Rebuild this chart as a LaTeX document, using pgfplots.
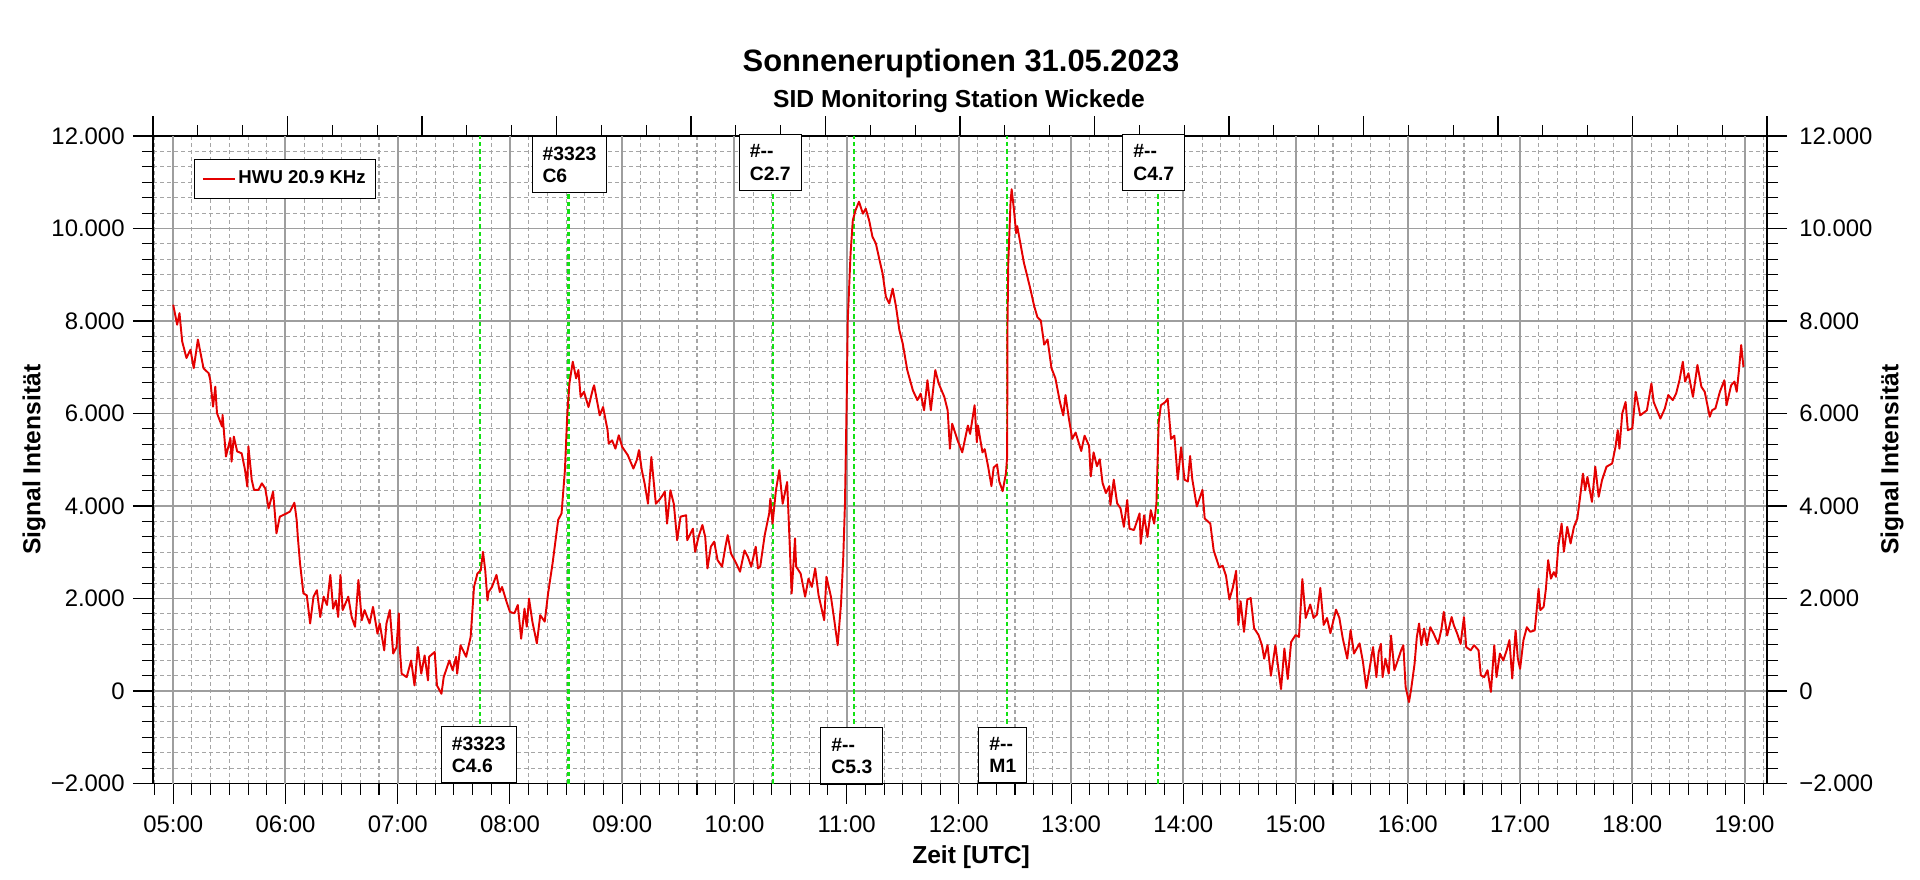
\documentclass[border=0pt]{standalone}
\usepackage{fontspec}
\setmainfont{Liberation Sans}
\usepackage{pgfplots}
\pgfplotsset{compat=1.18}
\definecolor{sigred}{RGB}{228,0,0}
\definecolor{flgreen}{RGB}{20,225,20}
\definecolor{gridmaj}{RGB}{158,158,158}
\definecolor{gridmin}{RGB}{165,165,165}
\pgfplotsset{
 base/.style={width=161.4mm, height=64.75mm, scale only axis, at={(15.3mm,9.55mm)}, anchor=south west,
   scaled ticks=false,
   tick align=outside, major tick length=2mm, minor tick length=1.1mm,
   every tick/.style={black, line width=0.3pt},
   axis line style={black, line width=0.4pt},
   tick label style={font=\fontsize{6.8}{8}\selectfont},
   ymin=-2000, ymax=12000},
}
\tikzset{flbox/.style={draw=black, line width=0.3pt, fill=white, inner xsep=1.05mm, inner ysep=1mm, align=left, font=\fontsize{5.5}{6.45}\selectfont\bfseries}}
\begin{document}
\begin{tikzpicture}
\path[use as bounding box] (0,0) rectangle (192mm,87.9mm);
\node[anchor=base, font=\fontsize{8.8}{10}\selectfont\bfseries] at (96.1mm,80.8mm) {Sonneneruptionen 31.05.2023};
\node[anchor=base, font=\fontsize{7}{8}\selectfont\bfseries] at (95.9mm,77.13mm) {SID Monitoring Station Wickede};

% top ticks
\begin{axis}[base, hide y axis, xmin=0, xmax=36, xtick={0,3,...,36}, minor xtick={0,1,...,36}, xtick pos=right, xticklabels={}]
\end{axis}

% right y axis
\begin{axis}[base, hide x axis, xmin=0, xmax=1,
  ytick={-2000,0,2000,4000,6000,8000,10000,12000},
  yticklabels={−2.000,0,2.000,4.000,6.000,8.000,10.000,12.000},
  minor y tick num=5, ytick pos=right, yticklabel pos=right,
  ylabel={Signal Intensität},
  every axis y label/.style={at={(rel axis cs:1,0.5)}, xshift=12.5mm, rotate=90, anchor=center, font=\fontsize{7}{8}\selectfont\bfseries}]
\end{axis}

% main axis
\begin{axis}[base, clip=false,
  xmin=4.82, xmax=19.2,
  xtick={5,6,...,19},
  xticklabels={05:00,06:00,07:00,08:00,09:00,10:00,11:00,12:00,13:00,14:00,15:00,16:00,17:00,18:00,19:00},
  minor xtick={4.8333,
   5.1667,5.3333,5.5,5.6667,5.8333, 6.1667,6.3333,6.5,6.6667,6.8333, 7.1667,7.3333,7.5,7.6667,7.8333,
   8.1667,8.3333,8.5,8.6667,8.8333, 9.1667,9.3333,9.5,9.6667,9.8333, 10.1667,10.3333,10.5,10.6667,10.8333,
   11.1667,11.3333,11.5,11.6667,11.8333, 12.1667,12.3333,12.5,12.6667,12.8333, 13.1667,13.3333,13.5,13.6667,13.8333,
   14.1667,14.3333,14.5,14.6667,14.8333, 15.1667,15.3333,15.5,15.6667,15.8333, 16.1667,16.3333,16.5,16.6667,16.8333,
   17.1667,17.3333,17.5,17.6667,17.8333, 18.1667,18.3333,18.5,18.6667,18.8333, 19.1667},
  extra x ticks={5,6,...,19},
  extra x tick labels={},
  extra x tick style={xmajorgrids=true, major grid style={gridmaj, line width=0.6pt}},
  ytick={-2000,0,2000,4000,6000,8000,10000,12000},
  yticklabels={−2.000,0,2.000,4.000,6.000,8.000,10.000,12.000},
  yticklabel style={xshift=0.4mm},
  minor y tick num=5,
  xtick pos=left, ytick pos=left,
  xmajorgrids=false, xminorgrids=true, ymajorgrids=true, yminorgrids=true,
  major grid style={gridmaj, line width=0.4pt},
  minor grid style={gridmin, line width=0.3pt, dash pattern=on 0.4mm off 0.3mm},
  xlabel={Zeit [UTC]},
  every axis x label/.style={at={(rel axis cs:0.5,0)}, anchor=base, yshift=-7.95mm, xshift=1.1mm, font=\fontsize{7}{8}\selectfont\bfseries},
  ylabel={Signal Intensität},
  every axis y label/.style={at={(rel axis cs:0,0.5)}, xshift=-11.9mm, rotate=90, anchor=center, font=\fontsize{7}{8}\selectfont\bfseries},
  legend style={at={(0.0254,0.9645)}, anchor=north west, draw=black, line width=0.3pt, fill=white,
     inner xsep=0.75mm, inner ysep=0.8mm, font=\fontsize{5.3}{6}\selectfont\bfseries,
     nodes={inner sep=0.25mm}},
  legend cell align=left,
  legend image code/.code={\draw[#1] (0mm,0mm) -- (3.2mm,0mm);},
]
\addplot[flgreen, line width=0.6pt, dash pattern=on 0.45mm off 0.3mm, forget plot] coordinates {(7.733,-2000) (7.733,12000)};
\addplot[flgreen, line width=0.6pt, dash pattern=on 0.45mm off 0.3mm, forget plot] coordinates {(8.522,-2000) (8.522,12000)};
\addplot[flgreen, line width=0.6pt, dash pattern=on 0.45mm off 0.3mm, forget plot] coordinates {(10.346,-2000) (10.346,12000)};
\addplot[flgreen, line width=0.6pt, dash pattern=on 0.45mm off 0.3mm, forget plot] coordinates {(11.065,-2000) (11.065,12000)};
\addplot[flgreen, line width=0.6pt, dash pattern=on 0.45mm off 0.3mm, forget plot] coordinates {(12.427,-2000) (12.427,12000)};
\addplot[flgreen, line width=0.6pt, dash pattern=on 0.45mm off 0.3mm, forget plot] coordinates {(13.777,-2000) (13.777,12000)};

\addplot[sigred, line width=0.55pt, line join=round] coordinates {
(5.000,8353) (5.035,7920) (5.056,8170) (5.080,7560) (5.118,7200) (5.154,7380) (5.183,6980) (5.220,7600)
(5.270,6980) (5.316,6870) (5.330,6730) (5.355,6150) (5.375,6580) (5.390,6010) (5.435,5720) (5.440,5970)
(5.470,5070) (5.510,5470) (5.520,4960) (5.540,5500) (5.570,5180) (5.610,5140) (5.640,4780) (5.660,4420)
(5.670,5290) (5.700,4560) (5.720,4350) (5.760,4350) (5.790,4490) (5.820,4380) (5.850,3950) (5.890,4310)
(5.920,3410) (5.950,3770) (6.010,3840) (6.040,3880) (6.080,4070) (6.100,3700) (6.110,3340) (6.130,2760)
(6.160,2110) (6.190,2070) (6.220,1460) (6.250,2040) (6.280,2180) (6.310,1600) (6.340,2040) (6.370,1860)
(6.400,2510) (6.425,1780) (6.450,1960) (6.470,1600) (6.490,2510) (6.510,1750) (6.560,2040) (6.590,1600)
(6.620,1390) (6.650,2400) (6.680,1530) (6.705,1750) (6.750,1460) (6.780,1820) (6.820,1240) (6.840,1460)
(6.880,880) (6.900,1460) (6.930,1750) (6.960,810) (6.990,950) (7.010,1680) (7.020,880) (7.035,375)
(7.080,300) (7.120,660) (7.150,120) (7.180,950) (7.210,375) (7.240,770) (7.270,230) (7.280,740)
(7.330,845) (7.350,120) (7.390,-60) (7.410,300) (7.460,660) (7.490,450) (7.520,740) (7.530,375)
(7.560,990) (7.610,740) (7.650,1170) (7.680,2250) (7.710,2540) (7.740,2610) (7.760,3010) (7.780,2610)
(7.800,1960) (7.810,2140) (7.840,2250) (7.880,2510) (7.910,2140) (7.930,2250) (7.970,1930) (8.000,1710)
(8.040,1680) (8.070,1860) (8.100,1130) (8.130,1780) (8.150,1390) (8.170,2000) (8.200,1500) (8.240,1030)
(8.270,1640) (8.310,1500) (8.340,2110) (8.380,2760) (8.430,3700) (8.460,3840) (8.490,4775) (8.510,5930)
(8.530,6650) (8.560,7120) (8.590,6760) (8.610,6940) (8.630,6360) (8.660,6470) (8.700,6140) (8.740,6540)
(8.750,6610) (8.800,5960) (8.830,6140) (8.870,5640) (8.880,5350) (8.910,5420) (8.940,5240) (8.970,5530)
(9.000,5280) (9.050,5100) (9.100,4810) (9.130,4990) (9.150,5210) (9.175,4775) (9.200,4490) (9.230,4050)
(9.260,5060) (9.300,4050) (9.330,4130) (9.360,4230) (9.380,4310) (9.400,3620) (9.430,4340) (9.460,4050)
(9.490,3260) (9.520,3770) (9.570,3800) (9.580,3260) (9.630,3510) (9.650,3010) (9.680,3330) (9.715,3590)
(9.740,3330) (9.760,2650) (9.790,3120) (9.820,3230) (9.850,2830) (9.890,2690) (9.920,3120) (9.940,3370)
(9.970,2970) (10.010,2790) (10.050,2580) (10.090,3040) (10.120,2900) (10.150,2690) (10.190,3120) (10.210,2650)
(10.230,2690) (10.270,3370) (10.310,3840) (10.320,4160) (10.340,3620) (10.370,4340) (10.400,4775) (10.430,4050)
(10.470,4520) (10.490,3330) (10.510,2110) (10.540,3300) (10.550,2690) (10.590,2540) (10.630,2040) (10.660,2430)
(10.690,2250) (10.720,2650) (10.750,2070) (10.800,1530) (10.820,2470) (10.860,2040) (10.890,1530) (10.920,990)
(10.950,1890) (10.970,2900) (10.985,4050) (11.000,6220) (11.010,8020) (11.035,9460) (11.055,10180) (11.080,10400)
(11.110,10580) (11.145,10320) (11.170,10430) (11.200,10180) (11.230,9820) (11.260,9680) (11.290,9350) (11.320,9030)
(11.350,8520) (11.380,8380) (11.410,8700) (11.440,8310) (11.470,7800) (11.500,7510) (11.540,6940) (11.590,6500)
(11.630,6290) (11.660,6430) (11.690,6070) (11.720,6720) (11.750,6070) (11.790,6940) (11.820,6650) (11.870,6360)
(11.900,6070) (11.920,5240) (11.940,5780) (11.990,5410) (12.030,5160) (12.080,5740) (12.100,5560) (12.140,6180)
(12.160,5380) (12.170,5740) (12.210,5160) (12.230,5230) (12.260,4860) (12.290,4430) (12.310,4830) (12.340,4900)
(12.360,4530) (12.390,4320) (12.420,4720) (12.430,5080) (12.433,7930) (12.440,9250) (12.460,10560) (12.470,10850)
(12.490,10420) (12.510,9900) (12.520,10050) (12.550,9650) (12.580,9250) (12.610,8960) (12.640,8660) (12.670,8330)
(12.700,8080) (12.730,8010) (12.760,7490) (12.790,7600) (12.825,6980) (12.860,6760) (12.900,6250) (12.930,5960)
(12.950,6400) (12.980,5890) (13.010,5450) (13.040,5590) (13.090,5190) (13.120,5520) (13.160,5300) (13.175,4640)
(13.200,5160) (13.230,4860) (13.255,5010) (13.280,4500) (13.310,4280) (13.340,4430) (13.350,4020) (13.380,4570)
(13.410,4060) (13.440,3950) (13.470,3550) (13.500,4130) (13.520,3510) (13.560,3480) (13.610,3840) (13.620,3180)
(13.650,3800) (13.680,3330) (13.710,3910) (13.740,3620) (13.760,4060) (13.770,4940) (13.780,5810) (13.800,6180)
(13.840,6250) (13.860,6320) (13.890,5450) (13.920,5520) (13.950,4570) (13.980,5270) (14.010,4570) (14.040,4530)
(14.060,5080) (14.080,4570) (14.120,3990) (14.170,4350) (14.190,3730) (14.240,3620) (14.270,3040) (14.320,2670)
(14.350,2710) (14.380,2490) (14.410,1980) (14.440,2230) (14.470,2600) (14.490,1430) (14.510,1940) (14.540,1280)
(14.570,1980) (14.600,2010) (14.630,1360) (14.670,1210) (14.700,990) (14.720,700) (14.750,990) (14.780,330)
(14.820,990) (14.850,410) (14.870,40) (14.900,920) (14.930,260) (14.960,1060) (15.000,1210) (15.030,1170)
(15.060,2420) (15.090,1580) (15.130,1870) (15.160,1580) (15.190,1650) (15.220,2230) (15.250,1430) (15.280,1580)
(15.310,1250) (15.360,1760) (15.390,1580) (15.420,1140) (15.460,700) (15.490,1320) (15.520,810) (15.570,1030)
(15.600,630) (15.630,60) (15.660,500) (15.690,950) (15.720,300) (15.740,840) (15.760,1020) (15.775,300)
(15.800,700) (15.830,375) (15.850,1200) (15.880,450) (15.910,660) (15.940,880) (15.960,990) (15.980,90)
(16.010,-240) (16.030,50) (16.060,590) (16.080,1170) (16.100,1460) (16.120,990) (16.145,1350) (16.170,990)
(16.200,1380) (16.230,1240) (16.270,1020) (16.300,1350) (16.320,1710) (16.350,1200) (16.390,1600) (16.410,1420)
(16.440,1240) (16.470,1020) (16.500,1600) (16.520,950) (16.560,880) (16.590,990) (16.630,880) (16.650,340)
(16.680,300) (16.710,450) (16.740,-20) (16.770,990) (16.790,300) (16.820,810) (16.850,660) (16.880,880)
(16.905,1100) (16.930,270) (16.960,1310) (16.980,700) (17.000,480) (17.030,1100) (17.060,1380) (17.090,1280)
(17.130,1310) (17.145,1670) (17.165,2210) (17.180,1750) (17.210,1820) (17.230,2210) (17.250,2830) (17.275,2430)
(17.300,2570) (17.320,2470) (17.340,3120) (17.370,3620) (17.390,3010) (17.420,3550) (17.450,3190) (17.480,3550)
(17.510,3730) (17.535,4200) (17.560,4700) (17.580,4340) (17.600,4630) (17.640,4090) (17.670,4850) (17.700,4200)
(17.730,4560) (17.770,4850) (17.820,4920) (17.850,5280) (17.870,5640) (17.885,5240) (17.910,6000) (17.940,6250)
(17.960,5640) (18.000,5680) (18.030,6470) (18.070,5960) (18.130,6070) (18.170,6650) (18.190,6250) (18.250,5890)
(18.290,6110) (18.320,6400) (18.360,6290) (18.390,6430) (18.420,6720) (18.450,7120) (18.470,6690) (18.500,6870)
(18.540,6360) (18.580,7050) (18.615,6580) (18.645,6470) (18.690,5930) (18.710,6070) (18.740,6110) (18.780,6470)
(18.820,6720) (18.840,6180) (18.880,6610) (18.910,6690) (18.930,6470) (18.950,6940) (18.970,7480) (18.990,7010)
};
\addlegendentry{HWU 20.9 KHz}

\node[flbox, anchor=north west, xshift=-3.7mm] at (axis cs:8.522,12000) {\#3323\\C6};
\node[flbox, anchor=north west, xshift=-3.44mm, yshift=0.2mm] at (axis cs:10.346,12000) {\#-{}-\\C2.7};
\node[flbox, anchor=north west, xshift=-3.6mm, yshift=0.2mm] at (axis cs:13.777,12000) {\#-{}-\\C4.7};
\node[flbox, anchor=south west, xshift=-3.9mm] at (axis cs:7.733,-2000) {\#3323\\C4.6};
\node[flbox, anchor=south west, xshift=-3.35mm, yshift=-0.1mm] at (axis cs:11.065,-2000) {\#-{}-\\C5.3};
\node[flbox, anchor=south west, xshift=-2.84mm] at (axis cs:12.427,-2000) {\#-{}-\\M1};
\end{axis}
\end{tikzpicture}
\end{document}
